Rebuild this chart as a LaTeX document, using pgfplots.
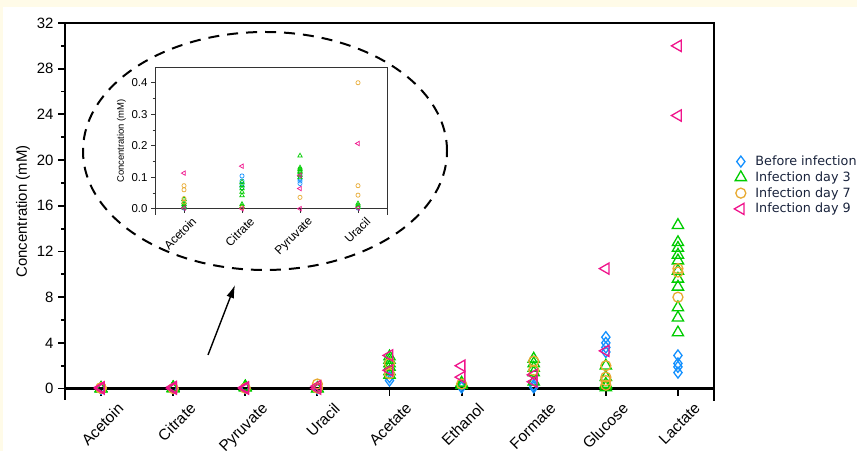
\documentclass[border=0pt]{standalone}
\usepackage{pgfplots}
\pgfplotsset{compat=1.18}
\usepackage{fontspec}
\setmainfont{Liberation Sans}
\newfontfamily\legfont{DejaVu Sans}
\usetikzlibrary{arrows.meta}
\definecolor{cream}{RGB}{255,251,232}
\definecolor{cblue}{RGB}{20,145,255}
\definecolor{cgreen}{RGB}{0,205,0}
\definecolor{corange}{RGB}{232,170,50}
\definecolor{cpink}{RGB}{240,20,140}
\definecolor{legtext}{RGB}{25,35,60}
\begin{document}
\begin{tikzpicture}[x=1bp,y=1bp]
\fill[cream] (0,0) rectangle (857,451);
\fill[white] (3,0) rectangle (857,444);
\useasboundingbox (0,0) rectangle (857,451);
\begin{axis}[
  at={(65bp,51bp)}, anchor=south west, scale only axis,
  width=649bp, height=377bp,
  xmin=-0.5, xmax=8.5, ymin=-1, ymax=32,
  axis x line=middle, axis y line=left,
  x axis line style={-, line width=2.2pt},
  y axis line style={-, line width=2.2pt},
  clip=false,
  tick align=outside,
  xtick={0,...,8},
  xticklabels={Acetoin,Citrate,Pyruvate,Uracil,Acetate,Ethanol,Formate,Glucose,Lactate},
  ytick={0,4,...,32}, minor ytick={2,6,...,30},
  major tick length=7bp, minor tick length=4bp,
  every tick/.style={black, line width=1.8pt},
  /pgf/number format/assume math mode=true,
  yticklabel style={font=\fontsize{15}{18}\selectfont, xshift=-1bp},
  xticklabel style={font=\fontsize{15.5}{18}\selectfont, rotate=45, anchor=north east, xshift=10bp, yshift=-12bp},
  ylabel={Concentration (mM)},
  ylabel style={font=\fontsize{15}{18}\selectfont},
  legend style={at={(1.031,0.653)}, anchor=north west, draw=none, fill=none,
    font=\legfont\fontsize{12.8}{15}\selectfont, text=legtext, row sep=0.6pt,
    inner sep=0pt, /tikz/every odd column/.append style={column sep=7bp}},
  legend cell align=left,
]
\addplot[only marks, mark=diamond, mark size=5.5bp, color=cblue, mark options={line width=1.3pt}] coordinates {
 (0,0.005) (0,0.002)
 (1,0.104) (1,0.088) (1,0.077) (1,0.067)
 (2,0.106) (2,0.095) (2,0.088) (2,0.080)
 (3,0.002)
 (4,1.0) (4,0.7)
 (5,0.1) (5,0.3)
 (6,0.1) (6,0.3)
 (7,4.5) (7,4.0) (7,3.6) (7,3.2)
 (8,2.9) (8,2.2) (8,1.9) (8,1.4)
};
\addlegendentry{Before infection}
\addplot[only marks, mark=triangle, mark size=6.5bp, color=cgreen, mark options={line width=1.3pt}] coordinates {
 (0,0.03) (0,0.02) (0,0.014) (0,0.007) (0,0.003)
 (1,0.085) (1,0.074) (1,0.064) (1,0.053) (1,0.042) (1,0.014) (1,0.008)
 (2,0.168) (2,0.13) (2,0.125) (2,0.12) (2,0.115) (2,0.106) (2,0.099)
 (3,0.016) (3,0.01) (3,0.005)
 (4,2.8) (4,2.5) (4,2.2) (4,1.9) (4,1.5) (4,1.2)
 (5,0.5) (5,0.3)
 (6,2.6) (6,2.2) (6,1.8) (6,1.4) (6,0.6)
 (7,2.0) (7,1.0) (7,0.4) (7,0.3) (7,0.1)
 (8,14.3) (8,12.8) (8,12.3) (8,11.7) (8,11.2) (8,10.3) (8,9.6) (8,8.9) (8,7.1) (8,6.2) (8,4.9)
};
\addlegendentry{Infection day 3}
\addplot[only marks, mark=o, mark size=5bp, color=corange, mark options={line width=1.3pt}] coordinates {
 (0,0.073) (0,0.06) (0,0.032) (0,0.021)
 (1,0.003)
 (2,0.036)
 (3,0.4) (3,0.073) (3,0.043)
 (4,2.2) (4,1.3)
 (5,0.4)
 (6,2.4) (6,1.6)
 (7,2.0) (7,1.0) (7,0.7) (7,0.3)
 (8,10.5) (8,10.2) (8,8.0)
};
\addlegendentry{Infection day 7}
\addplot[only marks, mark=triangle, mark size=6.5bp, color=cpink, mark options={line width=1.3pt, rotate=90}] coordinates {
 (0,0.113) (0,0.002)
 (1,0.135) (1,0)
 (2,0.106) (2,0.064) (2,0)
 (3,0.207) (3,0.002)
 (4,2.9) (4,1.6)
 (5,2.0) (5,1.0)
 (6,1.2) (6,0.6)
 (7,10.5) (7,3.3)
 (8,30.0) (8,23.9)
};
\addlegendentry{Infection day 9}
\draw[line width=2.2pt, line cap=rect] (rel axis cs:0,1) -- (rel axis cs:1,1) -- (rel axis cs:1,0);
\end{axis}

\begin{axis}[
  at={(155bp,236bp)}, anchor=south west, scale only axis,
  width=232bp, height=148bp,
  xmin=-0.5, xmax=3.5, ymin=-0.02, ymax=0.45,
  axis x line=middle, axis y line=left,
  x axis line style={-, line width=0.9pt, black!80},
  y axis line style={-, line width=0.9pt, black!80},
  clip=false,
  tick align=outside,
  xtick={0,...,3},
  xticklabels={Acetoin,Citrate,Pyruvate,Uracil},
  ytick={0,0.1,0.2,0.3,0.4}, minor ytick={0.05,0.15,0.25,0.35},
  major tick length=4bp, minor tick length=2.5bp,
  every tick/.style={black!80, line width=0.8pt},
  /pgf/number format/assume math mode=true,
  /pgf/number format/.cd, fixed, fixed zerofill, precision=1, /pgfplots/.cd,
  yticklabel style={font=\fontsize{11.5}{13}\selectfont},
  xticklabel style={font=\fontsize{12}{14}\selectfont, rotate=45, anchor=north east, xshift=6bp, yshift=-4bp},
  ylabel={Concentration (mM)},
  ylabel style={font=\fontsize{9.5}{11}\selectfont, yshift=-1bp},
]
\addplot[only marks, mark=o, mark size=2.1bp, color=cblue, mark options={line width=0.7pt}] coordinates {
 (0,0.005) (0,0.002)
 (1,0.104) (1,0.088) (1,0.077) (1,0.067)
 (2,0.106) (2,0.095) (2,0.088) (2,0.080)
 (3,0.002)
};
\addplot[only marks, mark=triangle, mark size=2.6bp, color=cgreen, mark options={line width=0.7pt}] coordinates {
 (0,0.03) (0,0.02) (0,0.014) (0,0.007) (0,0.003)
 (1,0.085) (1,0.074) (1,0.064) (1,0.053) (1,0.042) (1,0.014) (1,0.008)
 (2,0.168) (2,0.13) (2,0.125) (2,0.12) (2,0.115) (2,0.106) (2,0.099)
 (3,0.016) (3,0.01) (3,0.005)
};
\addplot[only marks, mark=o, mark size=2.1bp, color=corange, mark options={line width=0.7pt}] coordinates {
 (0,0.073) (0,0.06) (0,0.032) (0,0.021)
 (1,0.003)
 (2,0.036)
 (3,0.4) (3,0.073) (3,0.043)
};
\addplot[only marks, mark=triangle, mark size=2.6bp, color=cpink, mark options={line width=0.7pt, rotate=90}] coordinates {
 (0,0.113) (0,0.002)
 (1,0.135) (1,0)
 (2,0.106) (2,0.064) (2,0)
 (3,0.207) (3,0.002)
};
\draw[line width=0.9pt, black!80] (rel axis cs:0,1) -- (rel axis cs:1,1) -- (rel axis cs:1,0);
\end{axis}

\draw[black, line width=2pt, dash pattern=on 11bp off 8bp] (265,300) ellipse [x radius=182, y radius=119];
\draw[black, line width=1.4pt, -{Latex[length=13bp, width=8bp]}] (208,96) -- (235,166);
\end{tikzpicture}
\end{document}
